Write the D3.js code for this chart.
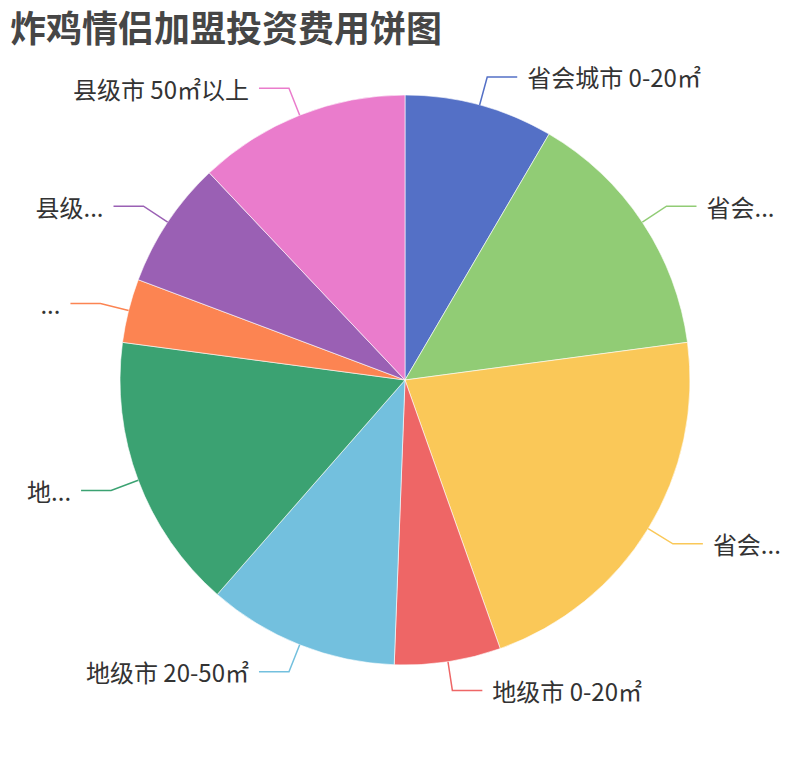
<!DOCTYPE html>
<html>
<head>
<meta charset="utf-8">
<script src="https://cdn.jsdelivr.net/npm/d3@7"></script>
<style>
  html, body { margin: 0; padding: 0; background: #fff; }
  text { font-family: "Noto Sans CJK SC", "Microsoft YaHei", sans-serif; }
</style>
</head>
<body>
<svg id="chart" width="810" height="760"></svg>
<script>
// chart data
var categories = [
    "省会城市 0-20㎡", "省会城市 20-50㎡", "省会城市 50㎡以上",
    "地级市 0-20㎡", "地级市 20-50㎡", "地级市 50㎡以上",
    "县级市 0-20㎡", "县级市 20-50㎡", "县级市 50㎡以上"
];
var values = [7, 12, 18, 5, 9, 13, 3, 6, 10];
var colors = ["#5470c6", "#91cc75", "#fac858", "#ee6666", "#73c0de", "#3ba272", "#fc8452", "#9a60b4", "#ea7ccc"];
var title = "炸鸡情侣加盟投资费用饼图";

var width = 810,
    height = 760,
    cx = 405,
    cy = 380,
    radius = 285,
    length1 = 29,
    length2 = 30,
    labelGap = 10,
    edgeMargin = 27;

var svg = d3.select("#chart");

svg.append("text")
    .attr("x", 10)
    .attr("y", 26)
    .attr("dominant-baseline", "central")
    .attr("font-size", 36)
    .attr("font-weight", "bold")
    .attr("fill", "#464646")
    .text(title);

var data = categories.map(function (c, i) {
    return { name: c, value: values[i], color: colors[i] };
});

var pie = d3.pie().sort(null).value(function (d) { return d.value; });
var arc = d3.arc().innerRadius(0).outerRadius(radius);

var g = svg.append("g").attr("transform", "translate(" + cx + "," + cy + ")");
var arcs = pie(data);

g.selectAll("path.slice")
    .data(arcs)
    .enter().append("path")
    .attr("class", "slice")
    .attr("d", arc)
    .attr("fill", function (d) { return d.data.color; })
    .attr("stroke", "#fff")
    .attr("stroke-width", 0.6);

// shorten a label with "..." until it fits the room left to the edge
function truncate(node, full, avail) {
    node.text(full);
    if (node.node().getComputedTextLength() <= avail) return;
    for (var n = full.length - 1; n >= 0; n--) {
        node.text(full.slice(0, n) + "...");
        if (node.node().getComputedTextLength() <= avail) return;
    }
}

arcs.forEach(function (d) {
    var mid = (d.startAngle + d.endAngle) / 2,
        sx = Math.sin(mid), sy = -Math.cos(mid),
        p0 = [sx * radius, sy * radius],
        p1 = [sx * (radius + length1), sy * (radius + length1)],
        right = sx >= 0,
        p2 = [p1[0] + (right ? length2 : -length2), p1[1]];

    g.append("polyline")
        .attr("points", [p0, p1, p2].map(function (p) { return p.join(","); }).join(" "))
        .attr("fill", "none")
        .attr("stroke", d.data.color)
        .attr("stroke-width", 1.5);

    var tx = p2[0] + (right ? labelGap : -labelGap);
    var label = g.append("text")
        .attr("x", tx)
        .attr("y", p2[1])
        .attr("dominant-baseline", "central")
        .attr("text-anchor", right ? "start" : "end")
        .attr("font-size", 24)
        .attr("fill", "#333");
    var avail = right ? (width - edgeMargin) - (cx + tx) : (cx + tx) - edgeMargin;
    truncate(label, d.data.name, avail);
});
</script>
</body>
</html>
